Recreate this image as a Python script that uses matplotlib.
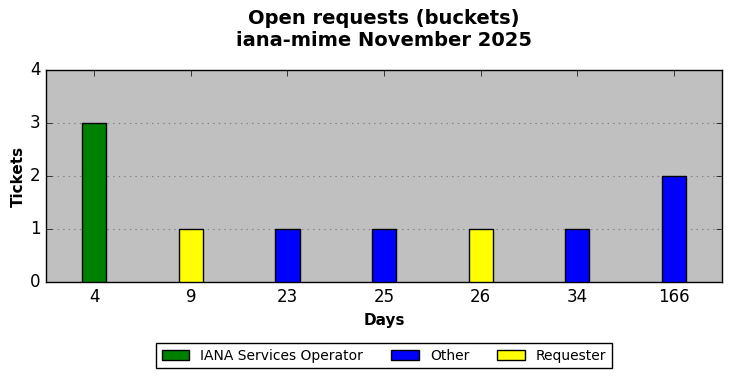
import numpy as np
import matplotlib
matplotlib.use('Agg')
import matplotlib.pyplot as plt
from matplotlib.patches import Patch

plt.style.use('classic')

days = ['4', '9', '23', '25', '26', '34', '166']
tickets = [3, 1, 1, 1, 1, 1, 2]
owners = ['IANA Services Operator', 'Requester', 'Other', 'Other', 'Requester', 'Other', 'Other']

owner_colors = {'IANA Services Operator': 'green', 'Other': 'blue', 'Requester': 'yellow'}
legend_order = ['IANA Services Operator', 'Other', 'Requester']

fig = plt.figure(figsize=(7.32, 3.78), dpi=100, facecolor='white')
ax = fig.add_axes([46 / 732, 1 - 282 / 378, 676 / 732, 212 / 378])
ax.set_facecolor('#c0c0c0')

x = np.arange(len(days))
ax.bar(x, tickets, width=0.25, align='center',
       color=[owner_colors[o] for o in owners], edgecolor='black', zorder=3)

ax.set_xlim(-0.5, len(days) - 0.5)
ax.set_ylim(0, 4)
ax.set_xticks(x)
ax.set_xticklabels(days)
ax.set_yticks([0, 1, 2, 3, 4])
ax.tick_params(labelsize=12)
ax.yaxis.grid(True, linestyle=':', color='gray', linewidth=0.8)
ax.xaxis.grid(False)
ax.set_axisbelow(True)

ax.set_xlabel('Days', fontweight='bold', fontsize=11)
ax.set_ylabel('Tickets', fontweight='bold', fontsize=11, labelpad=3)

center_x = (46 + 676 / 2) / 732
fig.suptitle('Open requests (buckets)\niana-mime November 2025',
             fontweight='bold', fontsize=14, x=center_x, y=0.975)

handles = [Patch(facecolor=owner_colors[o], edgecolor='black', label=o) for o in legend_order]
fig.legend(handles=handles, loc='lower center', ncol=3, fontsize=10,
           bbox_to_anchor=(center_x, 0.007), fancybox=False, frameon=True,
           handlelength=2.0, columnspacing=2.0)

fig.savefig('out.png', dpi=100, facecolor='white')
